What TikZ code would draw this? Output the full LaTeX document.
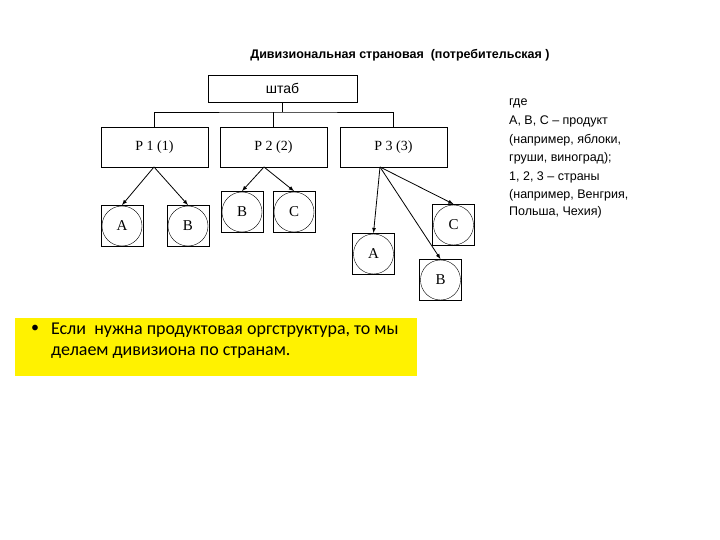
\documentclass[tikz,border=0pt]{standalone}
\usepackage{fontspec}
\setmainfont{Liberation Serif}
\newfontfamily\lsans{Liberation Sans}
\newfontfamily\carl{Carlito}
\begin{document}
\begin{tikzpicture}[x=1pt,y=-1pt,
  box/.style={draw,thick,minimum width=107pt,minimum height=40pt,inner sep=0pt},
  prod/.style={draw,thick,minimum width=42pt,minimum height=41pt,inner sep=0pt,font=\fontsize{15}{15}\selectfont,
     append after command={\pgfextra{\draw (\tikzlastnode.center) circle (20pt);}}},
  arr/.style={->,>=latex,thick},
  leg/.style={anchor=west,font=\lsans\fontsize{12.5}{12.5}\selectfont,inner sep=0pt}]
\useasboundingbox (0,0) rectangle (720,540);
\node[font=\lsans\bfseries\fontsize{12.5}{12.5}\selectfont] (title) at (400,55) {Дивизиональная страновая \ (потребительская )};
\node[draw,thick,minimum width=149pt,minimum height=27pt,font=\lsans\fontsize{14}{14}\selectfont] (hq) at (282.5,88.5) {штаб};
\node[box,font=\fontsize{14}{14}\selectfont] (p1) at (154.5,147) {Р 1 (1)};
\node[box,font=\fontsize{14}{14}\selectfont] (p2) at (273.5,147) {Р 2 (2)};
\node[box,font=\fontsize{14}{14}\selectfont] (p3) at (393.5,147) {Р 3 (3)};
\coordinate (bus) at (282.5,112);
\draw[thick] (hq.south) -- (bus);
\draw[thick] (p1.north) |- (bus) -| (p3.north);
\draw[thick] (p2.north) -- (p2.north |- bus);
\node[prod] (a1) at (122,226) {A};
\node[prod] (b1) at (188,226) {B};
\node[prod] (b2) at (242,212) {B};
\node[prod] (c2) at (294,212) {C};
\node[prod] (a3) at (373.5,254) {A};
\node[prod] (c3) at (453.5,225) {C};
\node[prod] (b3) at (440.5,280) {B};
\coordinate (s1) at (154,167);
\coordinate (s2) at (264,167);
\coordinate (s3) at (380,167);
\draw[arr] (s1) -- (a1.north);
\draw[arr] (s1) -- (b1.north);
\draw[arr] (s2) -- (b2.north);
\draw[arr] (s2) -- (c2.north);
\draw[arr] (s3) -- (a3.north);
\draw[arr] (s3) -- (b3.north);
\draw[arr] (s3) -- (c3.north);
\node[leg] (l1) at (509,103) {где};
\node[leg] (l2) at (509,121) {А, В, С – продукт};
\node[leg] (l3) at (509,140) {(например, яблоки,};
\node[leg] (l4) at (509,158) {груши, виноград);};
\node[leg] (l5) at (509,177) {1, 2, 3 – страны};
\node[leg] (l6) at (509,195) {(например, Венгрия,};
\node[leg] (l7) at (509,212) {Польша, Чехия)};
\fill[yellow] (15,318) rectangle (417,376);
\node[font=\carl\fontsize{16}{16}\selectfont] (bul) at (35,329) {•};
\node[anchor=west,inner sep=0pt,font=\carl\fontsize{18}{18}\selectfont] (t1) at (51,330) {Если \ нужна продуктовая оргструктура, то мы};
\node[anchor=west,inner sep=0pt,font=\carl\fontsize{18}{18}\selectfont] (t2) at (51,353) {делаем дивизиона по странам.};
\end{tikzpicture}
\end{document}
